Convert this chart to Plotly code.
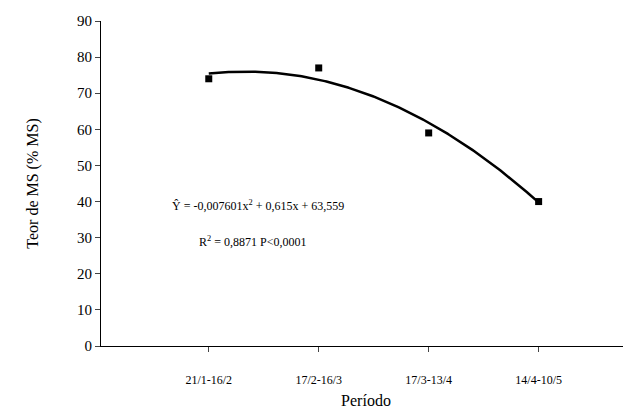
import numpy as np
import plotly.graph_objects as go

periodos = ["21/1-16/2", "17/2-16/3", "17/3-13/4", "14/4-10/5"]
teor_ms = [74, 77, 59, 40]
coef = [-0.007601, 0.615, 63.559]
dias = [31.8, 57.7, 83.6, 109.5]

pos = np.linspace(1, 4, 200)
d = np.interp(pos, [1, 2, 3, 4], dias)
yfit = coef[0] * d**2 + coef[1] * d + coef[2]

fig = go.Figure()
fig.add_trace(go.Scatter(x=pos, y=yfit, mode="lines", line=dict(color="black", width=2.5)))
fig.add_trace(go.Scatter(x=[1, 2, 3, 4], y=teor_ms, mode="markers",
                         marker=dict(symbol="square", size=7, color="black")))

fig.add_annotation(x=1.45, y=38.8, text="Ŷ = -0,007601x<sup>2</sup> + 0,615x + 63,559",
                   showarrow=False, font=dict(size=12))
fig.add_annotation(x=1.4, y=29, text="R<sup>2</sup> = 0,8871 P<0,0001",
                   showarrow=False, font=dict(size=12))

fig.update_layout(
    width=631, height=416, showlegend=False,
    plot_bgcolor="white", paper_bgcolor="white",
    margin=dict(l=93, r=8, t=13, b=78, autoexpand=False),
    font=dict(family="Liberation Serif, Times New Roman, serif", size=13, color="black"),
)
fig.update_xaxes(range=[0.02, 4.84], tickvals=[1, 2, 3, 4], ticktext=periodos,
                 showline=True, linecolor="black", ticks="outside", ticklen=5,
                 ticklabelstandoff=18,
                 showgrid=False, zeroline=False, tickfont=dict(size=12), automargin=False,
                 title=dict(text="Período", font=dict(size=16), standoff=8))
fig.update_yaxes(range=[0, 90], dtick=10, showline=True, linecolor="black",
                 ticks="outside", ticklen=5, showgrid=False, zeroline=False,
                 tickfont=dict(size=15), automargin=False,
                 title=dict(text="Teor de MS (% MS)", font=dict(size=16), standoff=34))
fig.write_html("out.html")
